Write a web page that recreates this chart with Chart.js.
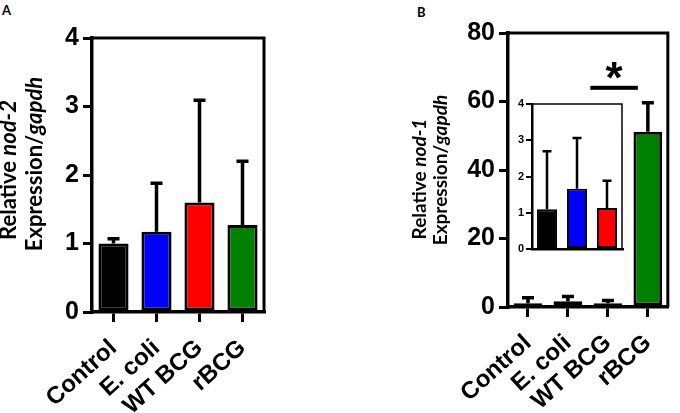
<!DOCTYPE html>
<html>
<head>
<meta charset="utf-8">
<script src="https://cdn.jsdelivr.net/npm/chart.js@4.4.0/dist/chart.umd.min.js"></script>
<style>
  html, body { margin: 0; padding: 0; background: #fff; }
  #wrap { position: relative; width: 680px; height: 413px; overflow: hidden; }
  canvas { position: absolute; }
  .plabel { position: absolute; font: bold 13px Lato, sans-serif; color: #000; }
</style>
</head>
<body>
<div id="wrap">
  <div class="plabel" style="left:2px;top:2px">A</div>
  <div class="plabel" style="left:417px;top:4px">B</div>
  <canvas id="chartA" width="340" height="413" style="left:0;top:0"></canvas>
  <canvas id="chartB" width="340" height="413" style="left:340px;top:0"></canvas>
  <canvas id="chartInset" width="140" height="170" style="left:490px;top:88px"></canvas>
</div>
<script>
'use strict';

/* data */
const cats        = ['Control', 'E. coli', 'WT BCG', 'rBCG'];
const barColors   = ['#000000', '#0000ff', '#ff0000', '#008000'];
const nod2Mean    = [1.0, 1.17, 1.6, 1.27];
const nod2ErrTop  = [1.07, 1.88, 3.09, 2.2];
const nod1Mean    = [1.1, 1.66, 1.13, 51.2];
const nod1ErrTop  = [2.7, 3.06, 1.88, 59.6];
const insetCats   = cats.slice(0, 3);
const nod2Ticks   = [0, 1, 2, 3, 4];
const nod1Ticks   = [0, 20, 40, 60, 80];
const insetTicks  = [0, 1, 2, 3, 4];
// significance bar: WT BCG vs rBCG (category units / y value)
const sigFrom = 1.56, sigTo = 2.75, sigY = 64, sigStarY = 69;

const ARIAL = '"Liberation Sans", Arial, sans-serif';

/* plugins */
const errorBars = {
  id: 'errorBars',
  afterDatasetsDraw(chart, args, opts) {
    const ctx = chart.ctx, y = chart.scales.y;
    const meta = chart.getDatasetMeta(0);
    ctx.save();
    ctx.strokeStyle = '#000';
    ctx.lineWidth = opts.lineWidth;
    ctx.lineCap = 'butt';
    meta.data.forEach((bar, i) => {
      const top = y.getPixelForValue(opts.tops[i]);
      ctx.beginPath();
      ctx.moveTo(bar.x, bar.y);
      ctx.lineTo(bar.x, top);
      ctx.moveTo(bar.x - opts.capWidth / 2, top);
      ctx.lineTo(bar.x + opts.capWidth / 2, top);
      ctx.stroke();
    });
    ctx.restore();
  },
};

const frame = {
  id: 'frame',
  afterDraw(chart, args, opts) {
    const { left, right, top, bottom } = chart.chartArea;
    const ctx = chart.ctx;
    ctx.save();
    ctx.strokeStyle = '#000';
    ctx.lineWidth = opts.width;
    ctx.beginPath();
    ctx.moveTo(left, top);
    ctx.lineTo(right, top);
    ctx.lineTo(right, bottom);
    ctx.stroke();
    ctx.restore();
  },
};

const yTitle = {
  id: 'yTitle',
  afterDraw(chart, args, opts) {
    if (!opts.lines) return;
    const ctx = chart.ctx;
    ctx.save();
    ctx.fillStyle = '#000';
    ctx.textBaseline = 'middle';
    opts.lines.forEach((parts, li) => {
      const fonts = parts.map(p => (p[1] ? 'italic ' : '') + 'bold ' + opts.size + 'px Lato, sans-serif');
      let total = 0;
      parts.forEach((p, k) => { ctx.font = fonts[k]; total += ctx.measureText(p[0]).width; });
      ctx.save();
      ctx.translate(opts.xs[li], opts.cys[li]);
      ctx.rotate(-Math.PI / 2);
      let x = -total / 2;
      parts.forEach((p, k) => {
        ctx.font = fonts[k];
        ctx.textAlign = 'left';
        ctx.fillText(p[0], x, 0);
        x += ctx.measureText(p[0]).width;
      });
      ctx.restore();
    });
    ctx.restore();
  },
};

const sigMark = {
  id: 'sigMark',
  afterDraw(chart, args, opts) {
    if (!opts.show) return;
    const ctx = chart.ctx, x = chart.scales.x, y = chart.scales.y;
    const x1 = x.getPixelForValue(sigFrom), x2 = x.getPixelForValue(sigTo);
    const yy = y.getPixelForValue(sigY);
    ctx.save();
    ctx.fillStyle = '#000';
    ctx.fillRect(x1, yy - 2, x2 - x1, 4);
    ctx.font = 'bold 44px ' + ARIAL;
    ctx.textAlign = 'center';
    ctx.textBaseline = 'alphabetic';
    ctx.fillText('*', (x1 + x2) / 2, y.getPixelForValue(sigStarY) + 22);
    ctx.restore();
  },
};

/* shared option builder */
function barOpts(cfg) {
  return {
    responsive: false,
    animation: false,
    layout: { padding: cfg.padding },
    plugins: {
      legend: { display: false },
      tooltip: { enabled: false },
      errorBars: cfg.err,
      frame: { width: cfg.frameWidth },
      yTitle: cfg.title || {},
      sigMark: { show: !!cfg.sig },
    },
    scales: {
      x: {
        display: true,
        grid: {
          display: cfg.xTicks, drawOnChartArea: false, offset: false,
          tickLength: 10, lineWidth: 3, color: '#000',
        },
        border: { display: true, color: '#000', width: cfg.axisWidth },
        ticks: {
          display: cfg.xTicks, autoSkip: false, maxRotation: 42, minRotation: 42,
          padding: 12, color: '#000', font: { family: ARIAL, weight: 'bold', size: 24 },
        },
        afterFit: s => { s.height = cfg.xHeight; },
      },
      y: {
        min: cfg.ticks[0], max: cfg.ticks[cfg.ticks.length - 1],
        afterBuildTicks: s => { s.ticks = cfg.ticks.map(v => ({ value: v })); },
        grid: {
          drawOnChartArea: false, tickLength: cfg.yTickLen,
          lineWidth: cfg.yTickWidth, color: '#000',
        },
        border: { color: '#000', width: cfg.axisWidth },
        ticks: {
          padding: cfg.yPad, color: '#000',
          font: { family: ARIAL, weight: 'bold', size: cfg.yFont },
        },
        afterFit: s => { s.width = cfg.yWidth; },
      },
    },
  };
}

Chart.register(errorBars, frame, yTitle, sigMark);

/* Panel A: nod-2 */
new Chart(document.getElementById('chartA').getContext('2d'), {
  type: 'bar',
  data: {
    labels: cats,
    datasets: [{
      data: nod2Mean, backgroundColor: barColors,
      borderColor: '#000', borderWidth: 3, borderSkipped: false,
      barPercentage: 0.7, categoryPercentage: 1,
    }],
  },
  options: barOpts({
    padding: { left: 0, right: 76, top: 38, bottom: 0 },
    err: { tops: nod2ErrTop, lineWidth: 3.5, capWidth: 12 },
    frameWidth: 3, axisWidth: 3.5, xTicks: true, xHeight: 101,
    ticks: nod2Ticks, yTickLen: 9, yTickWidth: 3, yPad: 4, yFont: 25, yWidth: 92,
    title: {
      lines: [[['Relative ', false], ['nod-2', true]], [['Expression/', false], ['gapdh', true]]],
      xs: [9, 35], cys: [170, 164], size: 22,
    },
  }),
});

/* Panel B: nod-1 */
new Chart(document.getElementById('chartB').getContext('2d'), {
  type: 'bar',
  data: {
    labels: cats,
    datasets: [{
      data: nod1Mean, backgroundColor: barColors,
      borderColor: '#000', borderWidth: 3, borderSkipped: false,
      barPercentage: 0.72, categoryPercentage: 1,
    }],
  },
  options: barOpts({
    padding: { left: 0, right: 7, top: 33, bottom: 0 },
    err: { tops: nod1ErrTop, lineWidth: 3.5, capWidth: 12 },
    frameWidth: 3, axisWidth: 3.5, xTicks: true, xHeight: 106,
    ticks: nod1Ticks, yTickLen: 9, yTickWidth: 3, yPad: 4, yFont: 25, yWidth: 168,
    title: {
      lines: [[['Relative ', false], ['nod-1', true]], [['Expression/', false], ['gapdh', true]]],
      xs: [80, 101], cys: [179, 170], size: 19,
    },
    sig: true,
  }),
});

/* Inset: first three groups of nod-1 on 0-4 scale */
new Chart(document.getElementById('chartInset').getContext('2d'), {
  type: 'bar',
  data: {
    labels: insetCats,
    datasets: [{
      data: nod1Mean.slice(0, 3), backgroundColor: barColors.slice(0, 3),
      borderColor: '#000', borderWidth: 2, borderSkipped: false,
      barPercentage: 0.67, categoryPercentage: 1,
    }],
  },
  options: barOpts({
    padding: { left: 0, right: 8, top: 16, bottom: 0 },
    err: { tops: nod1ErrTop.slice(0, 3), lineWidth: 2.5, capWidth: 9 },
    frameWidth: 1.5, axisWidth: 2.5, xTicks: false, xHeight: 9,
    ticks: insetTicks, yTickLen: 6, yTickWidth: 2, yPad: 2, yFont: 11, yWidth: 42,
  }),
});
</script>
</body>
</html>
